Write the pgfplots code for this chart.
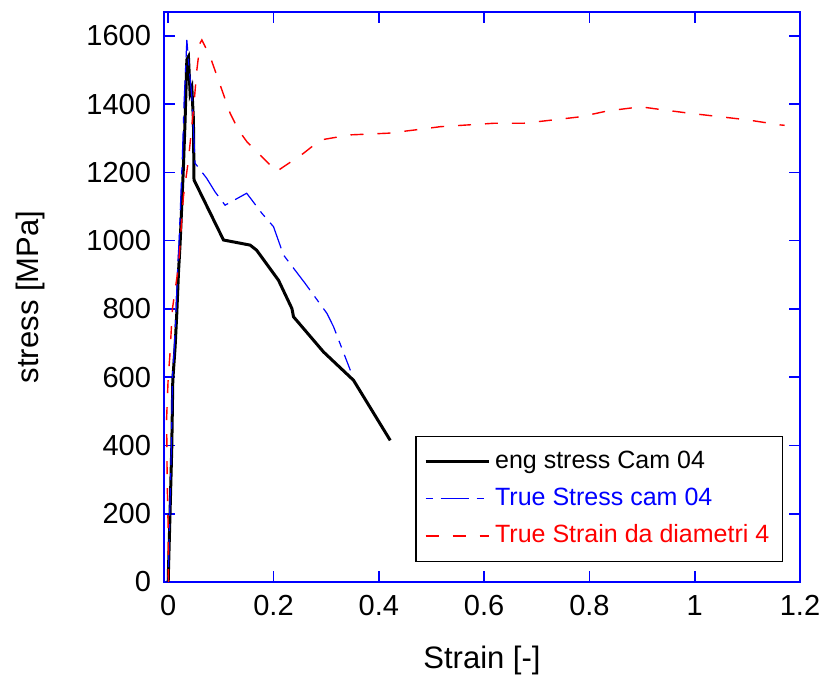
\documentclass[border=0pt]{standalone}
\usepackage{pgfplots}
\pgfplotsset{compat=1.18}
\usepackage{fontspec}
\setmainfont{Liberation Sans}
\begin{document}
\begin{tikzpicture}
\begin{axis}[
 scale only axis, width=318pt, height=285pt,
 xmin=-0.008, xmax=1.2, ymin=0, ymax=1670,
 xtick={0,0.2,0.4,0.6,0.8,1,1.2}, ytick={0,200,...,1600},
 tick align=inside, major tick length=5.5pt,
 axis line style={blue, line width=0.8pt},
 every tick/.style={blue, line width=0.8pt},
 tick label style={font=\fontsize{14.5}{16}\selectfont, black},
 /pgf/number format/assume math mode=true,
 /pgf/number format/1000 sep={},
 yticklabel style={xshift=-3pt},
 xticklabel style={yshift=-3pt},
 xlabel={Strain [-]}, ylabel={stress [MPa]},
 label style={font=\fontsize{15.5}{18}\selectfont},
 xlabel style={at={(axis description cs:0.5,-0.1509)}, anchor=base},
 ylabel style={at={(axis description cs:-0.2107,0.5)}, anchor=center},
 legend style={at={(rel axis cs:0.9733,0.0351)}, anchor=south east, draw=black, line width=0.7pt, fill=white,
   font=\fontsize{12.5}{15}\selectfont, inner sep=4pt, row sep=1pt,
   nodes={inner sep=2.5pt, text height=9.5pt, text depth=3pt}},
 legend cell align=left,
 legend image code/.code={\draw[#1] (0pt,0pt) -- (31.5pt,0pt);},
]
\coordinate (sw) at (rel axis cs:0,0);
\coordinate (ne) at (rel axis cs:1,1);
\addplot[black, line width=1.5pt] coordinates {
(0,0) (0.0004,29) (0.0036,210) (0.0068,396) (0.0087,591) (0.0131,689) (0.0163,787)
(0.0194,904) (0.0226,992) (0.0259,1109) (0.0289,1217) (0.0321,1354) (0.0354,1530)
(0.0384,1539) (0.0416,1432) (0.0449,1448) (0.0479,1354) (0.049,1178)
(0.105,1002) (0.1557,987) (0.168,972) (0.2095,884) (0.235,801) (0.238,777)
(0.295,674) (0.352,591) (0.4217,415)
};
\addlegendentry{eng stress Cam 04}
\addplot[blue, line width=0.6pt, dash pattern=on 3.5pt off 4pt on 14pt off 4pt] coordinates {
(0,0) (0.0004,30) (0.003,210) (0.006,400) (0.008,600) (0.012,700) (0.015,800)
(0.018,920) (0.021,1010) (0.024,1130) (0.027,1250) (0.030,1400) (0.0354,1588)
(0.040,1500) (0.045,1422) (0.051,1227) (0.073,1183) (0.089,1143) (0.108,1104)
(0.149,1139) (0.156,1125) (0.178,1080) (0.2,1041) (0.219,958) (0.26,875)
(0.3015,787) (0.314,748) (0.346,620)
};
\addlegendentry{\textcolor{blue}{True Stress cam 04}}
\addplot[red, line width=0.7pt, dash pattern=on 6.5pt off 7pt] coordinates {
(0.0005,0) (0,150) (-0.002,300) (-0.003,480) (0,600) (0.003,660) (0.008,800)
(0.0194,923) (0.0289,1129) (0.0384,1236) (0.0479,1383) (0.0544,1500) (0.0606,1579)
(0.0639,1588) (0.0797,1539) (0.0987,1456) (0.1177,1373) (0.1335,1324) (0.1494,1290)
(0.2032,1207) (0.2051,1202) (0.257,1256) (0.2888,1295) (0.3458,1310) (0.4186,1315)
(0.4662,1324) (0.5169,1334) (0.5677,1339) (0.6183,1344) (0.6753,1344) (0.7323,1354)
(0.7831,1363) (0.8338,1380) (0.8909,1391) (0.9034,1391) (0.9414,1383) (0.9922,1373)
(1.0492,1363) (1.1,1354) (1.1633,1339) (1.1709,1338)
};
\addlegendentry{\textcolor{red}{True Strain da diametri 4}}
\end{axis}
\pgfresetboundingbox
\path[use as bounding box] ([shift={(-82pt,-49.5pt)}]sw) rectangle ([shift={(13.5pt,6pt)}]ne);
\end{tikzpicture}
\end{document}
